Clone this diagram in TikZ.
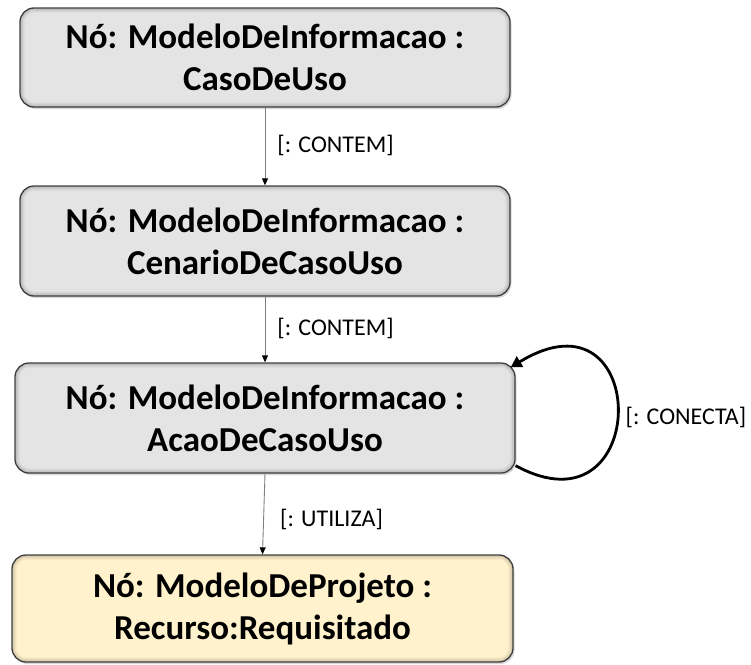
\documentclass[tikz,border=0pt]{standalone}
\usepackage{fontspec}
\setmainfont{Carlito}
\usetikzlibrary{shadows,arrows.meta}
\definecolor{boxgray}{HTML}{E4E4E4}
\definecolor{boxyellow}{HTML}{FFF2CC}
\definecolor{edgecol}{HTML}{3F3F3F}
\definecolor{linegray}{HTML}{808080}
\begin{document}
\begin{tikzpicture}[x=1pt,y=-1pt,
  innerglow/.style={path picture={
    \foreach \w/\o in {9pt/0.05,6pt/0.06,3pt/0.08}{
      \draw[line width=\w, black, opacity=\o, rounded corners=14pt]
        (path picture bounding box.south west) rectangle (path picture bounding box.north east);}}},
  box/.style={draw=edgecol, line width=1.3pt, rounded corners=14pt, fill=boxgray,
    align=center, font=\fontsize{35}{42}\selectfont\bfseries, inner sep=0pt, innerglow,
    drop shadow={shadow xshift=1.5pt, shadow yshift=-2pt, opacity=0.3}},
  conn/.style={draw=linegray, line width=0.9pt, -{Triangle[length=7pt,width=6pt,color=black]}},
  loopconn/.style={draw=black, line width=2.8pt, -{Triangle[length=11pt,width=12pt]}},
  lab/.style={font=\fontsize{24}{29}\selectfont, inner sep=0pt, anchor=base west}
]
\useasboundingbox (0,0) rectangle (751,664);
\node[box, minimum width=490pt, minimum height=99pt] (b1) at (265,57.5)
  {Nó: ModeloDeInformacao :\\CasoDeUso};
\node[box, minimum width=490pt, minimum height=110pt] (b2) at (265,241)
  {Nó: ModeloDeInformacao :\\CenarioDeCasoUso};
\node[box, minimum width=500pt, minimum height=110pt] (b3) at (265,418)
  {Nó: ModeloDeInformacao :\\AcaoDeCasoUso};
\node[box, fill=boxyellow, minimum width=501pt, minimum height=107pt] (b4) at (262.5,608.5)
  {Nó: ModeloDeProjeto :\\Recurso:Requisitado};

\draw[conn] (b1.south) -- node[lab, midway, xshift=12pt, yshift=-5.5pt] {[: CONTEM]} (b2.north);
\draw[conn] (b2.south) -- node[lab, midway, xshift=12pt, yshift=-5.5pt] {[: CONTEM]} (b3.north);
\draw[conn] (b3.south) -- node[lab, midway, xshift=16pt, yshift=-12pt] {[: UTILIZA]} (b4.north);

\draw[loopconn] ([shift={(0pt,8pt)}]b3.south east)
  .. controls (652,540) and (652,281) ..
  node[lab, pos=0.5, xshift=7pt, yshift=-12pt] {[: CONECTA]}
  ([shift={(-5pt,-5pt)}]b3.north east);
\end{tikzpicture}
\end{document}
